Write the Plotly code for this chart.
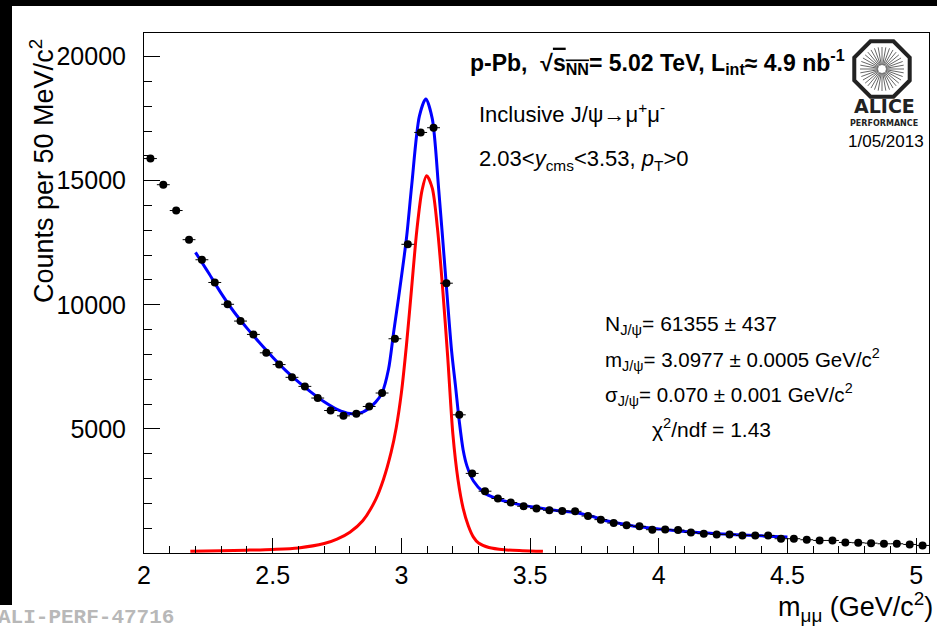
import math
import plotly.graph_objects as go

# ---------------- data ----------------
mass_bins = [round(2.025 + 0.05 * i, 3) for i in range(61)]
counts = [15891, 14838, 13798, 12623, 11814, 10899, 10020, 9344, 8806, 8065,
          7591, 7077, 6713, 6243, 5741, 5526, 5607, 5903, 6445, 8632,
          12437, 16943, 17134, 10870, 5567, 3206, 2490, 2194, 2032, 1883,
          1789, 1721, 1692, 1680, 1490, 1344, 1206, 1113, 1073, 939,
          951, 923, 830, 777, 749, 749, 709, 709, 709, 575,
          575, 534, 506, 506, 425, 413, 397, 372, 372, 344, 304]
bin_half_width = [0.025] * len(mass_bins)

fit_total_x = [2.20, 2.25, 2.30, 2.35, 2.40, 2.45, 2.50, 2.55, 2.60, 2.65, 2.70,
               2.75, 2.80, 2.85, 2.90, 2.925, 2.95, 2.97, 2.99, 3.02, 3.04, 3.07,
               3.095, 3.12, 3.145, 3.17, 3.195, 3.21, 3.225, 3.24, 3.255, 3.28,
               3.32, 3.37, 3.42, 3.47, 3.52, 3.58, 3.62, 3.66, 3.70, 3.75, 3.80,
               3.85, 3.90, 3.95, 4.00, 4.05, 4.10, 4.15, 4.20, 4.25, 4.30, 4.35,
               4.40, 4.45, 4.50]
fit_total_y = [12110, 11300, 10460, 9710, 9060, 8460, 7890, 7360, 6890, 6470, 6090,
               5790, 5620, 5680, 6080, 6450, 7400, 8900, 10350, 12700, 14800, 17600,
               18290, 17500, 14650, 11400, 8150, 6750, 5300, 4150, 3500, 2900,
               2440, 2190, 2040, 1930, 1840, 1745, 1690, 1650, 1580, 1450, 1290,
               1190, 1090, 1030, 970, 915, 870, 830, 795, 765, 740, 715,
               690, 665, 645]

signal_x = [2.18, 2.30, 2.40, 2.50, 2.60, 2.70, 2.75, 2.80, 2.85, 2.90, 2.93, 2.96,
            2.98, 3.00, 3.02, 3.04, 3.06, 3.08, 3.098, 3.12, 3.14, 3.16, 3.18,
            3.20, 3.22, 3.24, 3.26, 3.28, 3.30, 3.34, 3.40, 3.47, 3.55]
signal_y = [70, 95, 115, 145, 205, 380, 560, 840, 1300, 2150, 2950, 4050,
            5050, 6450, 8400, 10700, 13000, 14600, 15200, 14700, 13100, 10700, 7900,
            4800, 2950, 1800, 1100, 640, 400, 220, 130, 95, 70]

x_tickvals = [2, 2.5, 3, 3.5, 4, 4.5, 5]
x_ticktext = ["2", "2.5", "3", "3.5", "4", "4.5", "5"]
y_tickvals = [5000, 10000, 15000, 20000]
y_ticktext = ["5000", "10000", "15000", "20000"]

# ---------------- layout helpers ----------------
W, H = 937, 628
L, R, T, B = 144, 8, 33, 75
PW, PH = W - L - R, H - T - B


def px(x):
    return (x - L) / PW


def py(y):
    return (H - B - y) / PH


FONT = "Liberation Sans, Arial, Helvetica, sans-serif"

fig = go.Figure()

fig.add_trace(go.Scatter(x=signal_x, y=signal_y, mode="lines",
                         line=dict(color="#ff0000", width=3, shape="spline", smoothing=0.8),
                         hoverinfo="skip", showlegend=False))
fig.add_trace(go.Scatter(x=fit_total_x, y=fit_total_y, mode="lines",
                         line=dict(color="#0000ff", width=3, shape="spline", smoothing=0.8),
                         hoverinfo="skip", showlegend=False))
fig.add_trace(go.Scatter(x=mass_bins, y=counts, mode="markers",
                         marker=dict(color="black", size=8, symbol="circle"),
                         error_x=dict(type="data", array=bin_half_width, color="black",
                                      thickness=1, width=0),
                         showlegend=False))

fig.update_layout(
    width=W, height=H,
    margin=dict(l=L, r=R, t=T, b=B, pad=0),
    paper_bgcolor="white", plot_bgcolor="white",
    font=dict(family=FONT, color="black"),
    xaxis=dict(range=[2, 5.05], tickmode="array", tickvals=x_tickvals, ticktext=x_ticktext,
               ticks="inside", ticklen=15, tickwidth=1, tickcolor="black",
               minor=dict(tickmode="linear", tick0=2, dtick=0.1, ticks="inside",
                          ticklen=7, tickwidth=1, tickcolor="black", showgrid=False),
               showgrid=False, zeroline=False, showline=True, linecolor="black",
               linewidth=1, mirror=True, tickfont=dict(size=25, family=FONT),
               ticklabelstandoff=0),
    yaxis=dict(range=[0, 20950], tickmode="array", tickvals=y_tickvals, ticktext=y_ticktext,
               ticks="inside", ticklen=16, tickwidth=1, tickcolor="black",
               minor=dict(tickmode="linear", tick0=0, dtick=1000, ticks="inside",
                          ticklen=8, tickwidth=1, tickcolor="black", showgrid=False),
               showgrid=False, zeroline=False, showline=True, linecolor="black",
               linewidth=1, mirror=True, tickfont=dict(size=25, family=FONT),
               ticklabelstandoff=12),
)

ann = []


def text(x, y, s, size, xanchor="left", yanchor="middle", color="black", family=FONT, angle=0):
    ann.append(dict(x=px(x), y=py(y), xref="paper", yref="paper", text=s, showarrow=False,
                    xanchor=xanchor, yanchor=yanchor, textangle=angle,
                    font=dict(size=size, color=color, family=family)))


# axis titles
text(42, 171, "Counts per 50 MeV/c<sup>2</sup>", 27, xanchor="center", angle=-90)
text(935, 607, "m<sub>μμ</sub> (GeV/c<sup>2</sup>)", 27, xanchor="right")

# header texts
text(468, 62, "<b>p-Pb,  √<span style='text-decoration:overline'>s<sub>NN</sub></span>= 5.02 TeV, "
              "L<sub>int</sub>≈ 4.9 nb<sup>-1</sup></b>", 23)
text(477, 113, "Inclusive J/ψ→μ<sup>+</sup>μ<sup>-</sup>", 22)
text(477, 160, "2.03&lt;<i>y</i><sub>cms</sub>&lt;3.53, <i>p</i><sub>T</sub>&gt;0", 22)

# fit results
text(603, 325, "N<sub>J/ψ</sub>= 61355 ± 437", 21)
text(603, 359, "m<sub>J/ψ</sub>= 3.0977 ± 0.0005 GeV/c<sup>2</sup>", 20.5)
text(603, 394, "σ<sub>J/ψ</sub>= 0.070 ± 0.001 GeV/c<sup>2</sup>", 20.5)
text(650, 428, "χ<sup>2</sup>/ndf = 1.43", 21)

# logo texts
text(884, 106, "<b>ALICE</b>", 19, xanchor="center", family="DejaVu Sans, sans-serif", color="#222")
text(884, 123, "<b>PERFORMANCE</b>", 8, xanchor="center", family="DejaVu Sans, sans-serif", color="#222")
text(886, 141, "1/05/2013", 17, xanchor="center")

# watermark
text(-4, 617, "<b>ALI-PERF-47716</b>", 21, color="#b8b8b8",
     family="Liberation Mono, Courier New, monospace")

shapes = []
# black screen border strips
shapes.append(dict(type="rect", xref="paper", yref="paper", x0=px(0), x1=px(12), y0=py(0), y1=py(605),
                   fillcolor="black", line=dict(width=0), layer="above"))
shapes.append(dict(type="rect", xref="paper", yref="paper", x0=px(0), x1=px(W), y0=py(0), y1=py(6),
                   fillcolor="black", line=dict(width=0), layer="above"))

# ALICE logo octagon + starburst
cx, cy, rad = 882, 69, 30
pts = []
for k in range(8):
    a = math.radians(22.5 + 45 * k)
    pts.append((cx + rad * math.cos(a), cy + rad * math.sin(a)))
path = "M " + " L ".join(f"{px(x):.5f},{py(y):.5f}" for x, y in pts) + " Z"
shapes.append(dict(type="path", xref="paper", yref="paper", path=path,
                   line=dict(color="#222", width=4), fillcolor="rgba(0,0,0,0)"))
for k in range(36):
    a = math.radians(10 * k)
    r0, r1 = 4, 22
    shapes.append(dict(type="line", xref="paper", yref="paper",
                       x0=px(cx + r0 * math.cos(a)), y0=py(cy + r0 * math.sin(a)),
                       x1=px(cx + r1 * math.cos(a)), y1=py(cy + r1 * math.sin(a)),
                       line=dict(color="#666", width=1)))

fig.update_layout(annotations=ann, shapes=shapes)
fig.write_html("out.html")
